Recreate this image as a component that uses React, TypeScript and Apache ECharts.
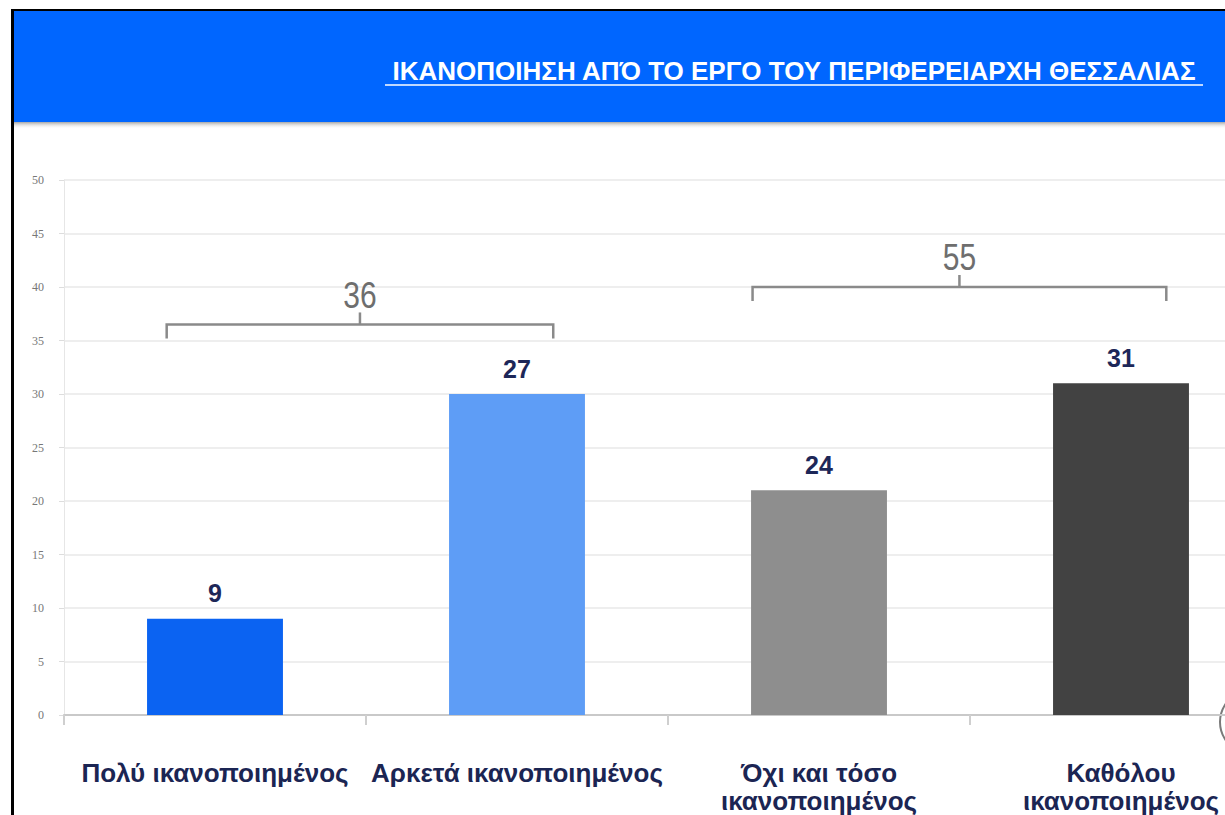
import React, { useEffect, useRef } from "react";
import * as echarts from "echarts";

const categories = [
  "Πολύ ικανοποιημένος",
  "Αρκετά ικανοποιημένος",
  "Όχι και τόσο\nικανοποιημένος",
  "Καθόλου\nικανοποιημένος",
];
const barHeights = [9, 30, 21, 31];
const valueLabels = ["9", "27", "24", "31"];
const barColors = ["#0b63f2", "#5e9df6", "#8e8e8e", "#424242"];
const yMin = 0;
const yMax = 50;
const yInterval = 5;
const groupTotals = ["36", "55"];
const titleText = "ΙΚΑΝΟΠΟΙΗΣΗ ΑΠΌ ΤΟ ΕΡΓΟ ΤΟΥ ΠΕΡΙΦΕΡΕΙΑΡΧΗ ΘΕΣΣΑΛΙΑΣ";

// bracket layout (category-index span, y level in axis units)
const bracketLayout = [
  { from: -0.16, to: 1.12, level: 36.5 },
  { from: 1.78, to: 3.15, level: 40 },
];

const SANS = "'Liberation Sans', Arial, sans-serif";
const CHART_W = 1290;

export default function App() {
  const ref = useRef<HTMLDivElement>(null);
  useEffect(() => {
    if (!ref.current) return;
    const chart = echarts.init(ref.current, undefined, { renderer: "svg" });
    chart.setOption({
      animation: false,
      backgroundColor: "#ffffff",
      grid: { left: 64, top: 180, width: 1208, height: 538, containLabel: false },
      xAxis: {
        type: "category",
        data: categories,
        axisLine: { show: true, lineStyle: { color: "#c9c9c9", width: 2 } },
        axisTick: { show: true, length: 10, lineStyle: { color: "#cfcfcf", width: 2 } },
        axisLabel: {
          interval: 0,
          margin: 44,
          fontSize: 26,
          fontWeight: "bold",
          lineHeight: 28,
          color: "#1b2553",
          fontFamily: SANS,
        },
      },
      yAxis: {
        type: "value",
        min: yMin,
        max: yMax,
        interval: yInterval,
        axisLine: { show: true, lineStyle: { color: "#e6e6e6" } },
        axisTick: { show: true, length: 5, lineStyle: { color: "#dddddd" } },
        splitLine: { lineStyle: { color: "#e8e8e8", width: 1.5 } },
        axisLabel: {
          margin: 20,
          fontSize: 12,
          color: "#777777",
          fontFamily: "'Liberation Serif', 'DejaVu Serif', serif",
        },
      },
      series: [
        {
          type: "bar",
          barWidth: "45%",
          data: barHeights.map((v, i) => ({ value: v, itemStyle: { color: barColors[i] } })),
          label: {
            show: true,
            position: "top",
            distance: 13,
            fontSize: 25,
            fontWeight: "bold",
            color: "#1d2758",
            fontFamily: SANS,
            formatter: (p: any) => valueLabels[p.dataIndex],
          },
        },
      ],
    });

    const graphics: any[] = [
      // header
      { type: "rect", shape: { x: 12, y: 10, width: 1278, height: 112 }, style: { fill: "#0066ff" }, z: 10 },
      {
        type: "rect",
        shape: { x: 12, y: 120, width: 1278, height: 9 },
        style: {
          fill: new echarts.graphic.LinearGradient(0, 0, 0, 1, [
            { offset: 0, color: "rgba(60,60,60,0.75)" },
            { offset: 1, color: "rgba(255,255,255,0)" },
          ]),
        },
        z: 9,
      },
      // border
      { type: "rect", shape: { x: 11, y: 9, width: 3, height: 806 }, style: { fill: "#000" }, z: 12 },
      { type: "rect", shape: { x: 11, y: 9, width: 1279, height: 2 }, style: { fill: "#000" }, z: 12 },
      {
        type: "text",
        x: 794,
        y: 71,
        z: 11,
        style: {
          text: titleText,
          fill: "#ffffff",
          fontSize: 26,
          fontWeight: "bold",
          fontFamily: SANS,
          align: "center",
          verticalAlign: "middle",
        },
      },
      { type: "line", z: 11, shape: { x1: 385, y1: 85, x2: 1203, y2: 85 }, style: { stroke: "#ffffff", lineWidth: 1.5 } },
      // partial circle at right edge
      { type: "circle", shape: { cx: 1252, cy: 722, r: 32 }, style: { fill: "none", stroke: "#7a7a7a", lineWidth: 2 } },
    ];

    const p0 = chart.convertToPixel({ xAxisIndex: 0, yAxisIndex: 0 }, [0, 0]) as number[];
    const p1 = chart.convertToPixel({ xAxisIndex: 0, yAxisIndex: 0 }, [1, 0]) as number[];
    const step = p1[0] - p0[0];
    bracketLayout.forEach((b, i) => {
      const y = (chart.convertToPixel({ xAxisIndex: 0, yAxisIndex: 0 }, [0, b.level]) as number[])[1];
      const x1 = p0[0] + b.from * step;
      const x2 = p0[0] + b.to * step;
      const xc = (x1 + x2) / 2;
      graphics.push({
        type: "polyline",
        shape: { points: [[x1, y + 14], [x1, y], [x2, y], [x2, y + 14]] },
        style: { stroke: "#8a8a8a", lineWidth: 2.5, fill: "none" },
      });
      graphics.push({
        type: "line",
        shape: { x1: xc, y1: y, x2: xc, y2: y - 12 },
        style: { stroke: "#8a8a8a", lineWidth: 2.5 },
      });
      graphics.push({
        type: "text",
        x: xc,
        y: y - 30,
        scaleY: 1.25,
        style: {
          text: groupTotals[i],
          fill: "#6e6e6e",
          fontSize: 30,
          fontFamily: SANS,
          align: "center",
          verticalAlign: "middle",
        },
      });
    });
    chart.setOption({ graphic: graphics });
    return () => chart.dispose();
  }, []);
  return (
    <div style={{ position: "fixed", left: 0, top: 0, width: 1225, height: 815, overflow: "hidden", background: "#fff" }}>
      <div ref={ref} style={{ width: CHART_W, height: 815 }} />
    </div>
  );
}
